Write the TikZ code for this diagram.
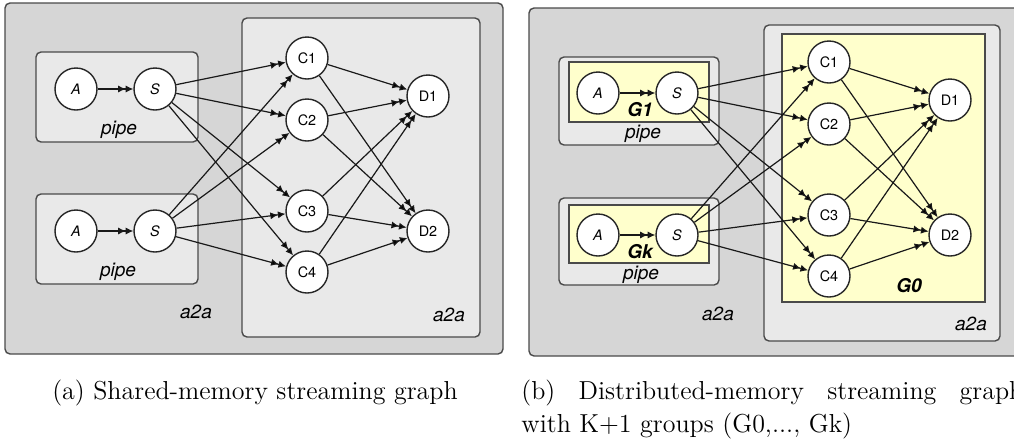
\documentclass[tikz,border=0pt]{standalone}
\usepackage{fontspec}
\setsansfont{TeX Gyre Heros}
\usetikzlibrary{arrows.meta}
\definecolor{grisfondo}{HTML}{D6D6D6}
\definecolor{grisclaro}{HTML}{E9E9E9}
\definecolor{amarillo}{HTML}{FFFFCC}
\definecolor{borde}{HTML}{4A4A4A}

% grafo comun a las dos figuras (nodos y conexiones)
\newcommand{\grafo}{%
  \node [nodo] (A1) at (76,89)  {\textit{A}};
  \node [nodo] (S1) at (155,89) {\textit{S}};
  \node [nodo] (A2) at (76,231) {\textit{A}};
  \node [nodo] (S2) at (155,231) {\textit{S}};
  \node [nodo] (C1) at (307,58)  {C1};
  \node [nodo] (C2) at (307,120) {C2};
  \node [nodo] (C3) at (307,211) {C3};
  \node [nodo] (C4) at (307,272) {C4};
  \node [nodo] (D1) at (428,96)  {D1};
  \node [nodo] (D2) at (428,231) {D2};
  % conexiones
  \draw[flecha] (A1) -- (S1);
  \draw[flecha] (A2) -- (S2);
  \foreach \s in {S1,S2} {
    \foreach \c in {C1,C2,C3,C4} {
      \path[flecha] (\s) edge (\c);
    }
  }
  \foreach \c in {C1,C2,C3,C4} {
    \foreach \d in {D1,D2} {
      \path[flecha] (\c) edge (\d);
    }
  }
}

\begin{document}
\begin{tikzpicture}[   % opciones por defecto
      x=0.5pt, y=-0.5pt,   % una unidad = un pixel de la imagen
      font=\sffamily
    ]
    \tikzstyle{nodo}=[draw=black!85, fill=white, circle, minimum size=21pt, inner sep=0pt, line width=0.7pt, font=\sffamily\fontsize{7.2}{8}\selectfont];
    \tikzstyle{flecha}=[-{Latex[length=3.8pt,width=3.6pt]Latex[length=3.8pt,width=3.6pt]}, line width=0.6pt, draw=black!90];
    \tikzstyle{caja}=[draw=borde, rounded corners=2.5pt, line width=0.7pt];
    \tikzstyle{etiqueta}=[font=\sffamily\itshape\fontsize{9.5}{10}\selectfont];
    \tikzstyle{grupo}=[font=\sffamily\bfseries\itshape\fontsize{9.5}{10}\selectfont];
    \tikzstyle{pie}=[font=\fontsize{13}{16.5}\selectfont];
    %
    \useasboundingbox (0,0) rectangle (1014,446);
    %
    % (a) memoria compartida
    \draw[caja, fill=grisfondo] (5,3) rectangle (503,354);
    \draw[caja, fill=grisclaro] (242,18) rectangle (480,337);
    \draw[caja, fill=grisclaro] (36,52) rectangle (198,142);
    \draw[caja, fill=grisclaro] (36,194) rectangle (198,284);
    \node [etiqueta] (pa1) at (119,130) {pipe};
    \node [etiqueta] (pa2) at (118,272) {pipe};
    \node [etiqueta] (aa1) at (196,312) {a2a};
    \node [etiqueta] (aa2) at (449,315) {a2a};
    \begin{scope}[name prefix=a-]
      \grafo
    \end{scope}
    \node [pie] (capa) at (255,393) {(a) Shared-memory streaming graph};
    %
    % (b) memoria distribuida
    \draw[caja, fill=grisfondo] (529,8) rectangle (1040,356);
    \draw[caja, fill=grisclaro] (764,25) rectangle (1000,341);
    \draw[draw=borde, fill=amarillo, line width=0.7pt] (782,34) rectangle (985,302);
    \draw[caja, fill=grisclaro] (559,57) rectangle (719,145);
    \draw[caja, fill=grisclaro] (559,198) rectangle (719,285);
    \draw[draw=borde, fill=amarillo, line width=0.7pt] (569,62) rectangle (709,122);
    \draw[draw=borde, fill=amarillo, line width=0.7pt] (569,205) rectangle (709,263);
    \node [grupo] (g1) at (640,110) {G1};
    \node [grupo] (gk) at (640,252) {Gk};
    \node [grupo] (g0) at (909,286) {G0};
    \node [etiqueta] (pb1) at (643,134) {pipe};
    \node [etiqueta] (pb2) at (641,275) {pipe};
    \node [etiqueta] (ab1) at (718,314) {a2a};
    \node [etiqueta] (ab2) at (971,324) {a2a};
    \begin{scope}[shift={(522,4)}, name prefix=b-]
      \grafo
    \end{scope}
    \node [pie, anchor=north west, text width=251pt, align=justify, inner sep=0pt] (capb) at (521,380)
      {(b) Distributed-memory streaming graph\linebreak with K+1 groups (G0,..., Gk)};
  \end{tikzpicture}
\end{document}
